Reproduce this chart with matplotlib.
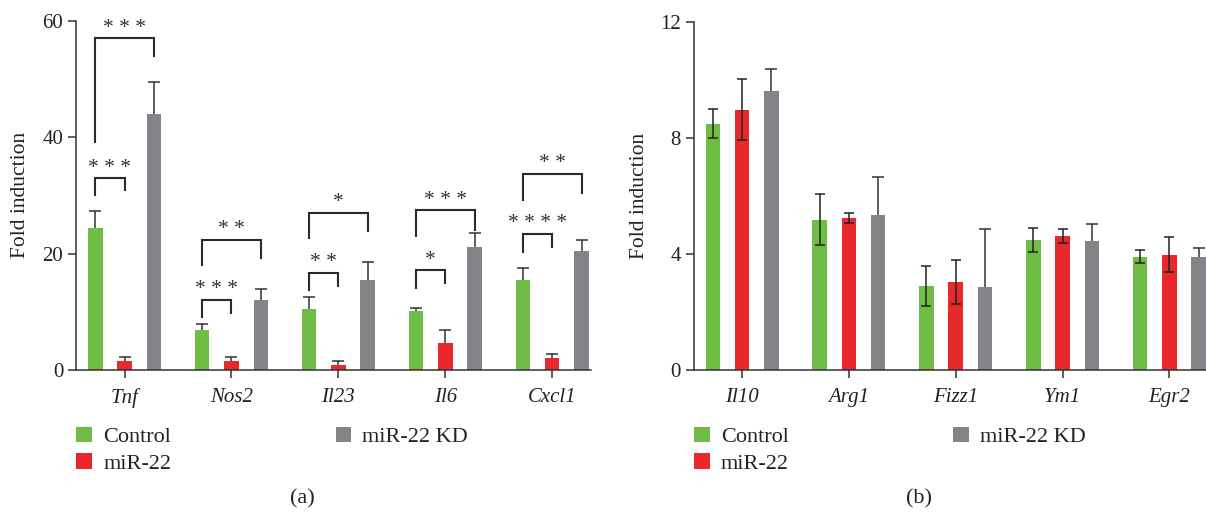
import numpy as np
import matplotlib.pyplot as plt

plt.rcParams['font.family'] = ['Liberation Serif', 'DejaVu Serif']

# ---- data: panel (a), pro-inflammatory genes
genes_a = ["Tnf", "Nos2", "Il23", "Il6", "Cxcl1"]
ctrl_a = [24.4, 6.95, 10.4, 10.05, 15.4]
ctrl_a_err = [2.9, 0.95, 2.1, 0.55, 2.1]
mir_a = [1.5, 1.5, 0.9, 4.6, 2.1]
mir_a_err = [0.8, 0.7, 0.6, 2.3, 0.7]
kd_a = [44.0, 11.95, 15.4, 21.1, 20.4]
kd_a_err = [5.4, 2.0, 3.1, 2.4, 1.9]

# significance brackets: gene index, compared group, bracket level, left/right leg ends, label
sig_gene = [0, 0, 1, 1, 2, 2, 3, 3, 4, 4]
sig_with = ["kd", "mir", "kd", "mir", "kd", "mir", "kd", "mir", "kd", "mir"]
sig_top = [57.0, 33.0, 22.4, 12.1, 27.0, 16.7, 27.5, 17.1, 33.7, 23.4]
sig_left = [39.2, 30.0, 18.0, 9.1, 22.6, 13.7, 23.1, 14.1, 29.2, 20.3]
sig_right = [53.9, 30.9, 19.2, 9.8, 23.8, 14.4, 24.1, 14.9, 30.4, 21.1]
sig_text = ["***", "***", "**", "***", "*", "**", "***", "*", "**", "****"]

# ---- data: panel (b), anti-inflammatory genes
genes_b = ["Il10", "Arg1", "Fizz1", "Ym1", "Egr2"]
ctrl_b = [8.48, 5.17, 2.90, 4.48, 3.90]
ctrl_b_err = [0.50, 0.88, 0.68, 0.40, 0.22]
mir_b = [8.97, 5.23, 3.03, 4.62, 3.97]
mir_b_err = [1.05, 0.18, 0.75, 0.25, 0.60]
kd_b = [9.62, 5.34, 2.86, 4.45, 3.90]
kd_b_err = [0.74, 1.32, 2.00, 0.58, 0.31]

labels = ["Control", "miR-22", "miR-22 KD"]
colors = ["#6fbd44", "#e8282b", "#838488"]
ecol = "#333333"
tcol = "#222222"

fig = plt.figure(figsize=(12.06, 5.15), dpi=100)
ax1 = fig.add_axes([0.0634, 0.2816, 0.4264, 0.678])
ax2 = fig.add_axes([0.5755, 0.2816, 0.4260, 0.6765])

off = 0.274
w = 0.136


def up_err(ax, xs, ys, es, color):
    # one-sided error bar: stem from bar top up, cap only on top
    ys = np.asarray(ys)
    es = np.asarray(es)
    ax.vlines(xs, ys, ys + es, color=color, lw=1.1, zorder=3)
    ax.plot(xs, ys + es, ls="none", marker="_", ms=8, mew=1.1, color=color, zorder=3)


def style(ax, ymax, step):
    for s in ["top", "right"]:
        ax.spines[s].set_visible(False)
    for s in ["left", "bottom"]:
        ax.spines[s].set_color(ecol)
        ax.spines[s].set_linewidth(1.1)
    ax.set_ylim(0, ymax)
    ax.set_yticks(np.arange(0, ymax + 0.1, step))
    ax.set_xlim(-0.45, 4.36)
    ax.tick_params(axis="both", direction="out", length=6, width=1.1,
                   color=ecol, labelsize=15, labelcolor=tcol)
    ax.tick_params(axis="x", pad=7)
    ax.set_ylabel("Fold induction", fontsize=15.5, color=tcol)


# panel (a)
x = np.arange(len(genes_a))
ax1.bar(x - off, ctrl_a, w, color=colors[0], label=labels[0])
ax1.bar(x, mir_a, w, color=colors[1], label=labels[1])
ax1.bar(x + off, kd_a, w, color=colors[2], label=labels[2])
up_err(ax1, x - off, ctrl_a, ctrl_a_err, ecol)
up_err(ax1, x, mir_a, mir_a_err, ecol)
up_err(ax1, x + off, kd_a, kd_a_err, ecol)
style(ax1, 60, 20)
ax1.set_xticks(x)
ax1.set_xticklabels(genes_a, style="italic")
ax1.yaxis.set_label_coords(-0.09, 0.5)

for g, c, top, lo, ro, t in zip(sig_gene, sig_with, sig_top, sig_left, sig_right, sig_text):
    x0 = g - off
    x1 = g + off if c == "kd" else g
    ax1.plot([x0, x0, x1, x1], [lo, top, top, ro], color="#2a2a2a", lw=1.5,
             solid_joinstyle="miter")
    ax1.text((x0 + x1) / 2, top + 1.7, " ".join(t), ha="center", va="center",
             fontsize=15.5, color="#333333")

# panel (b)
x = np.arange(len(genes_b))
ekw2 = dict(ecolor="#222222", elinewidth=1.1, capsize=3.5, capthick=1.1)
ax2.bar(x - off, ctrl_b, w, color=colors[0], label=labels[0],
        yerr=ctrl_b_err, error_kw=ekw2)
ax2.bar(x, mir_b, w, color=colors[1], label=labels[1],
        yerr=mir_b_err, error_kw=ekw2)
ax2.bar(x + off, kd_b, w, color=colors[2], label=labels[2])
up_err(ax2, x + off, kd_b, kd_b_err, ecol)
style(ax2, 12, 4)
ax2.set_xticks(x)
ax2.set_xticklabels(genes_b, style="italic")
ax2.yaxis.set_label_coords(-0.088, 0.5)

for ax in (ax1, ax2):
    ax.legend(loc="upper left", bbox_to_anchor=(0.0, -0.163), ncol=2,
              frameon=False, fontsize=16, handlelength=0.7, handleheight=0.7,
              handletextpad=0.5, columnspacing=7.4, labelspacing=0.26,
              borderpad=0, borderaxespad=0, labelcolor=tcol)

fig.text(0.251, 0.032, "(a)", ha="center", va="center", fontsize=16, color=tcol)
fig.text(0.762, 0.032, "(b)", ha="center", va="center", fontsize=16, color=tcol)

fig.savefig("out.png", dpi=100)
